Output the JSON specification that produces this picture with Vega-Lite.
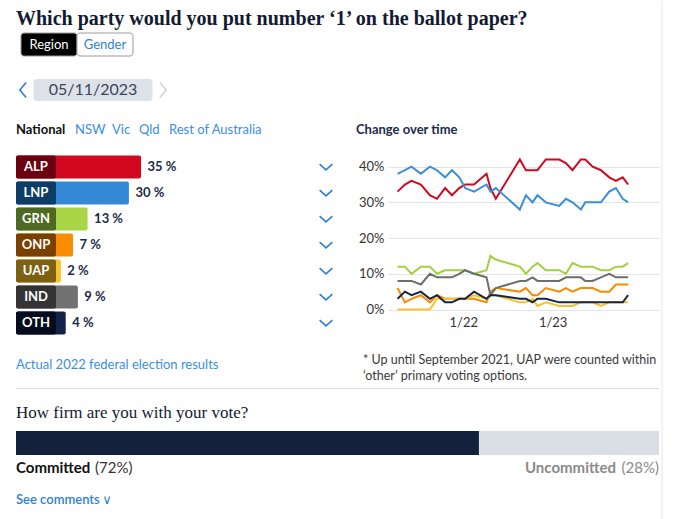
{
  "$schema": "https://vega.github.io/schema/vega-lite/v6.json",
  "background": "#ffffff",
  "padding": {"left": 15, "top": 0, "right": 0, "bottom": 0},
  "spacing": 1,
  "resolve": {"scale": {"color": "independent", "x": "independent", "y": "independent", "shape": "independent", "stroke": "independent"}},
  "datasets": {
    "buttons": [{"label": "Region", "state": "on"}, {"label": "Gender", "state": "off"}],
    "tabs": [
      {"i": 0, "tab": "National", "kind": "active"},
      {"i": 1, "tab": "NSW", "kind": "tab"},
      {"i": 2, "tab": "Vic", "kind": "tab"},
      {"i": 3, "tab": "Qld", "kind": "tab"},
      {"i": 4, "tab": "Rest of Australia", "kind": "tab"},
      {"i": 5, "tab": "Change over time", "kind": "heading"}
    ],
    "bars": [
      {"party": "ALP", "pct": 35}, {"party": "LNP", "pct": 30}, {"party": "GRN", "pct": 13},
      {"party": "ONP", "pct": 7}, {"party": "UAP", "pct": 2}, {"party": "IND", "pct": 9}, {"party": "OTH", "pct": 4}
    ],
    "trend": [
      {"date": "2021-04-08", "ALP": 33, "LNP": 38, "GRN": 12, "ONP": 6, "UAP": 0, "IND": 8, "OTH": 3},
      {"date": "2021-05-08", "ALP": 35, "LNP": 39, "GRN": 12, "ONP": 2, "UAP": 0, "IND": 8, "OTH": 5},
      {"date": "2021-06-04", "ALP": 36, "LNP": 40, "GRN": 10, "ONP": 3, "UAP": 0, "IND": 8, "OTH": 4},
      {"date": "2021-07-12", "ALP": 35, "LNP": 38, "GRN": 12, "ONP": 4, "UAP": 0, "IND": 7, "OTH": 5},
      {"date": "2021-08-18", "ALP": 32, "LNP": 40, "GRN": 12, "ONP": 2, "UAP": 0, "IND": 10, "OTH": 3},
      {"date": "2021-09-16", "ALP": 31, "LNP": 39, "GRN": 10, "ONP": 4, "UAP": 3, "IND": 9, "OTH": 4},
      {"date": "2021-10-19", "ALP": 34, "LNP": 37, "GRN": 11, "ONP": 3, "UAP": 3, "IND": 9, "OTH": 2},
      {"date": "2021-11-16", "ALP": 32, "LNP": 39, "GRN": 11, "ONP": 3, "UAP": 3, "IND": 9, "OTH": 2},
      {"date": "2021-12-16", "ALP": 34, "LNP": 37, "GRN": 11, "ONP": 3, "UAP": 3, "IND": 10, "OTH": 3},
      {"date": "2022-01-09", "ALP": 35, "LNP": 34, "GRN": 11, "ONP": 3, "UAP": 3, "IND": 11, "OTH": 3},
      {"date": "2022-02-14", "ALP": 35, "LNP": 33, "GRN": 10, "ONP": 3, "UAP": 4, "IND": 10, "OTH": 5},
      {"date": "2022-04-06", "ALP": 38, "LNP": 35, "GRN": 11, "ONP": 2, "UAP": 3, "IND": 9, "OTH": 3},
      {"date": "2022-04-22", "ALP": 34, "LNP": 33, "GRN": 15, "ONP": 5, "UAP": 4, "IND": 4, "OTH": 4},
      {"date": "2022-05-14", "ALP": 31, "LNP": 34, "GRN": 14, "ONP": 6, "UAP": 4, "IND": 6, "OTH": 4},
      {"date": "2022-08-20", "ALP": 42, "LNP": 28, "GRN": 12, "ONP": 5, "UAP": 2, "IND": 8, "OTH": 3},
      {"date": "2022-09-14", "ALP": 39, "LNP": 32, "GRN": 10, "ONP": 6, "UAP": 2, "IND": 8, "OTH": 3},
      {"date": "2022-10-11", "ALP": 39, "LNP": 30, "GRN": 12, "ONP": 4, "UAP": 3, "IND": 9, "OTH": 2},
      {"date": "2022-10-31", "ALP": 39, "LNP": 32, "GRN": 13, "ONP": 4, "UAP": 1, "IND": 8, "OTH": 3},
      {"date": "2022-12-04", "ALP": 42, "LNP": 30, "GRN": 11, "ONP": 6, "UAP": 2, "IND": 8, "OTH": 3},
      {"date": "2023-01-28", "ALP": 42, "LNP": 29, "GRN": 11, "ONP": 5, "UAP": 1, "IND": 8, "OTH": 2},
      {"date": "2023-02-24", "ALP": 41, "LNP": 31, "GRN": 10, "ONP": 6, "UAP": 1, "IND": 9, "OTH": 2},
      {"date": "2023-03-23", "ALP": 39, "LNP": 30, "GRN": 13, "ONP": 5, "UAP": 1, "IND": 9, "OTH": 2},
      {"date": "2023-04-26", "ALP": 42, "LNP": 28, "GRN": 12, "ONP": 6, "UAP": 2, "IND": 9, "OTH": 2},
      {"date": "2023-05-14", "ALP": 42, "LNP": 30, "GRN": 12, "ONP": 6, "UAP": 2, "IND": 8, "OTH": 2},
      {"date": "2023-06-13", "ALP": 40, "LNP": 30, "GRN": 12, "ONP": 6, "UAP": 2, "IND": 8, "OTH": 2},
      {"date": "2023-07-17", "ALP": 39, "LNP": 30, "GRN": 11, "ONP": 5, "UAP": 1, "IND": 9, "OTH": 2},
      {"date": "2023-08-20", "ALP": 37, "LNP": 33, "GRN": 11, "ONP": 5, "UAP": 2, "IND": 10, "OTH": 2},
      {"date": "2023-09-16", "ALP": 36, "LNP": 34, "GRN": 12, "ONP": 7, "UAP": 2, "IND": 9, "OTH": 2},
      {"date": "2023-10-14", "ALP": 37, "LNP": 31, "GRN": 12, "ONP": 7, "UAP": 2, "IND": 9, "OTH": 2},
      {"date": "2023-11-05", "ALP": 35, "LNP": 30, "GRN": 13, "ONP": 7, "UAP": 2, "IND": 9, "OTH": 4}
    ],
    "firm": [{"status": "Committed", "pct": 72}, {"status": "Uncommitted", "pct": 28}]
  },
  "hconcat": [
    {
      "spacing": 0,
      "resolve": {"scale": {"color": "independent", "x": "independent", "y": "independent", "shape": "independent", "stroke": "independent"}},
      "vconcat": [
        {
          "width": 122, "height": 55,
          "layer": [
            {"data": {"name": "buttons"},
             "encoding": {
               "x": {"field": "label", "type": "nominal", "sort": null, "scale": {"paddingInner": 0, "paddingOuter": 0.0893}, "axis": null},
               "y": {"datum": "btn", "type": "nominal", "scale": {"paddingInner": 0, "paddingOuter": 0.6957, "align": 1}, "axis": null}
             },
             "layer": [
               {"mark": {"type": "rect", "stroke": "#9b9b9b", "strokeWidth": 1, "cornerRadius": 3},
                "encoding": {"color": {"field": "state", "type": "nominal", "scale": {"domain": ["on", "off"], "range": ["#000000", "#ffffff"]}, "legend": null}}},
               {"mark": {"type": "text", "fontSize": 13, "baseline": "middle"},
                "encoding": {"text": {"field": "label"}, "color": {"field": "state", "type": "nominal", "scale": {"domain": ["on", "off"], "range": ["#ffffff", "#2f7fd3"]}, "legend": null}}}
             ],
             "resolve": {"scale": {"color": "independent"}}},
            {"data": {"values": [{"t": "Which party would you put number ‘1’ on the ballot paper?"}]},
             "mark": {"type": "text", "align": "left", "baseline": "alphabetic", "font": "Liberation Serif", "fontSize": 20, "fontWeight": "bold", "color": "#111b33"},
             "encoding": {
               "x": {"datum": "h", "type": "nominal", "scale": {"type": "point", "align": 0}, "axis": null},
               "y": {"datum": "h", "type": "nominal", "scale": {"type": "point", "align": 0.436}, "axis": null},
               "text": {"field": "t"}}}
          ],
          "resolve": {"scale": {"color": "independent", "x": "independent", "y": "independent"}}
        },
        {
          "width": 154, "height": 44,
          "data": {"values": [{"slot": "prev"}, {"slot": "date", "label": "05/11/2023"}, {"slot": "next"}]},
          "encoding": {
            "y": {"datum": "row", "type": "nominal", "scale": {"paddingInner": 0, "paddingOuter": 0.5, "align": 1}, "axis": null}
          },
          "layer": [
            {"transform": [{"filter": "datum.slot == 'date'"}],
             "mark": {"type": "rect", "color": "#dde1e8", "cornerRadius": 3},
             "encoding": {"x": {"field": "slot", "type": "nominal", "scale": {"domain": ["date"], "paddingInner": 0, "paddingOuter": 0.147}, "axis": null}}},
            {"transform": [{"filter": "datum.slot == 'date'"}],
             "mark": {"type": "text", "fontSize": 16, "color": "#3b4658", "baseline": "middle"},
             "encoding": {"x": {"field": "slot", "type": "nominal", "scale": {"domain": ["date"], "paddingInner": 0, "paddingOuter": 0.147}, "axis": null}, "text": {"field": "label"}}},
            {"transform": [{"filter": "datum.slot != 'date'"}],
             "mark": {"type": "point", "filled": false, "strokeWidth": 1.6, "size": 225, "opacity": 1},
             "encoding": {
               "x": {"field": "slot", "type": "nominal", "scale": {"type": "point", "domain": ["prev", "next"], "padding": 0.05}, "axis": null},
               "shape": {"field": "slot", "type": "nominal", "scale": {"domain": ["prev", "next"], "range": ["M0.42,-1L-0.42,0L0.42,1", "M-0.42,-1L0.42,0L-0.42,1"]}, "legend": null},
               "stroke": {"field": "slot", "type": "nominal", "scale": {"domain": ["prev", "next"], "range": ["#2f7fd3", "#d2d4d8"]}, "legend": null}
             }}
          ],
          "resolve": {"scale": {"x": "independent"}}
        },
        {
          "width": 643, "height": 52.5,
          "data": {"name": "tabs"},
          "encoding": {
            "x": {"field": "i", "type": "quantitative", "scale": {"domain": [0, 1, 2, 3, 4, 5], "range": [0, 59, 96, 123, 153, 340], "nice": false, "zero": false}, "axis": null},
            "y": {"datum": "tabs", "type": "nominal", "scale": {"type": "point", "align": 0.543}, "axis": null},
            "text": {"field": "tab"}
          },
          "layer": [
            {"transform": [{"filter": "datum.kind == 'active'"}], "mark": {"type": "text", "align": "left", "baseline": "middle", "fontSize": 13, "fontWeight": "bold", "color": "#111111"}},
            {"transform": [{"filter": "datum.kind == 'tab'"}], "mark": {"type": "text", "align": "left", "baseline": "middle", "fontSize": 13, "color": "#3a8ee6"}},
            {"transform": [{"filter": "datum.kind == 'heading'"}], "mark": {"type": "text", "align": "left", "baseline": "middle", "fontSize": 13, "fontWeight": "bold", "color": "#1b2a4a"}}
          ]
        },
        {
          "bounds": "flush",
          "spacing": 62,
          "hconcat": [
            {
              "width": 310, "height": 182,
              "data": {"name": "bars"},
              "encoding": {
                "y": {"field": "party", "type": "nominal", "sort": null, "scale": {"paddingInner": 0.11538, "paddingOuter": 0.0577}, "axis": null}
              },
              "layer": [
                {"mark": {"type": "bar", "cornerRadius": 2},
                 "encoding": {
                   "x": {"field": "pct", "type": "quantitative", "scale": {"domain": [-16.46, 111.1], "nice": false, "zero": false}, "axis": null},
                   "x2": {"datum": -16.46},
                   "color": {"field": "party", "type": "nominal", "scale": {"domain": ["ALP", "LNP", "GRN", "ONP", "UAP", "IND", "OTH"], "range": ["#d2091e", "#3489d6", "#a9d546", "#f98c00", "#f9c22e", "#727272", "#14224a"]}, "legend": null}
                 }},
                {"mark": {"type": "bar", "cornerRadius": 2},
                 "encoding": {
                   "x": {"datum": -16.46, "type": "quantitative"},
                   "x2": {"datum": 0},
                   "color": {"field": "party", "type": "nominal", "scale": {"domain": ["ALP", "LNP", "GRN", "ONP", "UAP", "IND", "OTH"], "range": ["#6a0010", "#0d3d66", "#4e6a22", "#7a4000", "#7d6112", "#333333", "#050c1e"]}, "legend": null}
                 }},
                {"mark": {"type": "text", "align": "center", "baseline": "middle", "color": "#ffffff", "fontWeight": "bold", "fontSize": 13},
                 "encoding": {"x": {"datum": -8.23, "type": "quantitative"}, "text": {"field": "party"}}},
                {"transform": [{"calculate": "datum.pct + ' %'", "as": "lab"}],
                 "mark": {"type": "text", "align": "left", "baseline": "middle", "dx": 6.5, "fontSize": 13, "fontWeight": "bold", "color": "#1b2a4a"},
                 "encoding": {"x": {"field": "pct", "type": "quantitative"}, "text": {"field": "lab"}}},
                {"mark": {"type": "point", "shape": "M-1,-0.45L0,0.45L1,-0.45", "filled": false, "stroke": "#2f7fd3", "strokeWidth": 1.6, "size": 161, "opacity": 1},
                 "encoding": {"x": {"value": "width"}}}
              ],
              "resolve": {"scale": {"color": "independent"}}
            },
            {
              "width": 271, "height": 155.5,
              "data": {"name": "trend"},
              "transform": [{"fold": ["ALP", "LNP", "GRN", "ONP", "UAP", "IND", "OTH"], "as": ["party", "pct"]}],
              "mark": {"type": "line", "strokeWidth": 2, "interpolate": "linear"},
              "encoding": {
                "x": {"field": "date", "type": "temporal",
                      "scale": {"domain": [{"year": 2021, "month": 2, "date": 28}, {"year": 2024, "month": 3, "date": 10}]},
                      "axis": {"values": [{"year": 2022, "month": 1, "date": 1}, {"year": 2023, "month": 1, "date": 1}], "format": "%-m/%y", "grid": false, "domain": false, "ticks": false, "labelPadding": 7, "labelFontSize": 13, "labelColor": "#333333", "title": null}},
                "y": {"field": "pct", "type": "quantitative",
                      "scale": {"domain": [0, 43.54], "nice": false},
                      "axis": {"values": [0, 10, 20, 30, 40], "labelExpr": "datum.value + '%'", "grid": true, "gridColor": "#e4e4e4", "domain": false, "ticks": false, "labelPadding": 4, "labelFontSize": 13, "labelColor": "#333333", "title": null}},
                "color": {"field": "party", "type": "nominal", "scale": {"domain": ["ALP", "LNP", "GRN", "ONP", "UAP", "IND", "OTH"], "range": ["#d2091e", "#3a8ed8", "#a2d13f", "#f78b00", "#f8c12c", "#6e6e6e", "#152447"]}, "legend": null}
              }
            }
          ]
        },
        {
          "width": 643, "height": 52.5,
          "layer": [
            {"data": {"values": [{"t": "Actual 2022 federal election results", "slot": "link"}]},
             "mark": {"type": "text", "align": "left", "baseline": "middle", "fontSize": 13, "color": "#3a8ee6"},
             "encoding": {
               "x": {"field": "slot", "type": "nominal", "scale": {"type": "point", "domain": ["link", "note"], "padding": 0.4265, "align": 0}, "axis": null},
               "y": {"datum": "link", "type": "nominal", "scale": {"type": "point", "align": 0.543}, "axis": null},
               "text": {"field": "t"}}},
            {"data": {"values": [{"t": "* Up until September 2021, UAP were counted within\n‘other’ primary voting options.", "slot": "note"}]},
             "mark": {"type": "text", "align": "left", "baseline": "middle", "fontSize": 12.5, "color": "#3a3a3a", "lineBreak": "\n", "lineHeight": 16},
             "encoding": {
               "x": {"field": "slot", "type": "nominal", "axis": null},
               "y": {"datum": "note", "type": "nominal", "scale": {"type": "point", "align": 0.448}, "axis": null},
               "text": {"field": "t"}}},
            {"data": {"values": [{"t": "divider"}]},
             "mark": {"type": "rule", "color": "#dcdcdc", "strokeWidth": 1},
             "encoding": {"y": {"value": "height"}}}
          ],
          "resolve": {"scale": {"y": "independent"}}
        },
        {
          "width": 643, "height": 66,
          "layer": [
            {"data": {"name": "firm"},
             "mark": {"type": "bar"},
             "encoding": {
               "x": {"field": "pct", "type": "quantitative", "stack": "zero", "scale": {"domain": [0, 100], "nice": false}, "axis": null},
               "y": {"datum": "bar", "type": "nominal", "scale": {"paddingInner": 0, "paddingOuter": 0.875, "align": 1}, "axis": null},
               "color": {"field": "status", "type": "nominal", "scale": {"domain": ["Committed", "Uncommitted"], "range": ["#14213d", "#dadee5"]}, "legend": null}}},
            {"data": {"values": [{"t": "How firm are you with your vote?"}]},
             "mark": {"type": "text", "align": "left", "baseline": "middle", "font": "Liberation Serif", "fontSize": 17, "color": "#111b33"},
             "encoding": {
               "x": {"datum": 0, "type": "quantitative"},
               "y": {"datum": "title", "type": "nominal", "scale": {"type": "point", "align": 0.359}, "axis": null},
               "text": {"field": "t"}}}
          ],
          "resolve": {"scale": {"y": "independent"}}
        },
        {
          "width": 643, "height": 65,
          "layer": [
            {"data": {"name": "firm"},
             "transform": [{"filter": "datum.status == 'Committed'"}],
             "mark": {"type": "text", "align": "left", "baseline": "middle", "fontSize": 15, "fontWeight": "bold", "color": "#111111"},
             "encoding": {
               "x": {"datum": 0, "type": "quantitative", "scale": {"domain": [0, 100], "nice": false}, "axis": null},
               "y": {"datum": "labels", "type": "nominal", "scale": {"type": "point", "domain": ["labels", "comments"], "padding": 0.516, "align": 0.394}, "axis": null},
               "text": {"field": "status"}}},
            {"data": {"name": "firm"},
             "transform": [{"filter": "datum.status == 'Committed'"}, {"calculate": "'(' + datum.pct + '%)'", "as": "lab"}],
             "mark": {"type": "text", "align": "left", "baseline": "middle", "dx": 79, "fontSize": 15, "color": "#333333"},
             "encoding": {"x": {"datum": 0, "type": "quantitative"}, "y": {"datum": "labels", "type": "nominal"}, "text": {"field": "lab"}}},
            {"data": {"name": "firm"},
             "transform": [{"filter": "datum.status == 'Uncommitted'"}],
             "mark": {"type": "text", "align": "right", "baseline": "middle", "dx": -43, "fontSize": 15, "fontWeight": "bold", "color": "#8a8a8a"},
             "encoding": {"x": {"datum": 100, "type": "quantitative"}, "y": {"datum": "labels", "type": "nominal"}, "text": {"field": "status"}}},
            {"data": {"name": "firm"},
             "transform": [{"filter": "datum.status == 'Uncommitted'"}, {"calculate": "'(' + datum.pct + '%)'", "as": "lab"}],
             "mark": {"type": "text", "align": "right", "baseline": "middle", "fontSize": 15, "color": "#8a8a8a"},
             "encoding": {"x": {"datum": 100, "type": "quantitative"}, "y": {"datum": "labels", "type": "nominal"}, "text": {"field": "lab"}}},
            {"data": {"values": [{"t": "See comments"}]},
             "mark": {"type": "text", "align": "left", "baseline": "middle", "fontSize": 13, "fontWeight": 600, "color": "#2f7fd3"},
             "encoding": {"x": {"datum": 0, "type": "quantitative"}, "y": {"datum": "comments", "type": "nominal"}, "text": {"field": "t"}}},
            {"data": {"values": [{"t": "∨"}]},
             "mark": {"type": "text", "align": "center", "baseline": "middle", "dx": 91, "font": "DejaVu Sans", "fontSize": 13, "color": "#2f7fd3"},
             "encoding": {"x": {"datum": 0, "type": "quantitative"}, "y": {"datum": "comments", "type": "nominal"}, "text": {"field": "t"}}}
          ]
        }
      ]
    },
    {
      "width": 1, "height": 519,
      "data": {"values": [{"t": "border"}]},
      "mark": {"type": "rule", "color": "#e6e6e6", "strokeWidth": 1},
      "encoding": {"x": {"datum": 0, "type": "quantitative", "scale": {"domain": [0, 1]}, "axis": null}}
    }
  ],
  "config": {
    "view": {"stroke": null},
    "font": "Lato",
    "text": {"font": "Lato"}
  }
}
